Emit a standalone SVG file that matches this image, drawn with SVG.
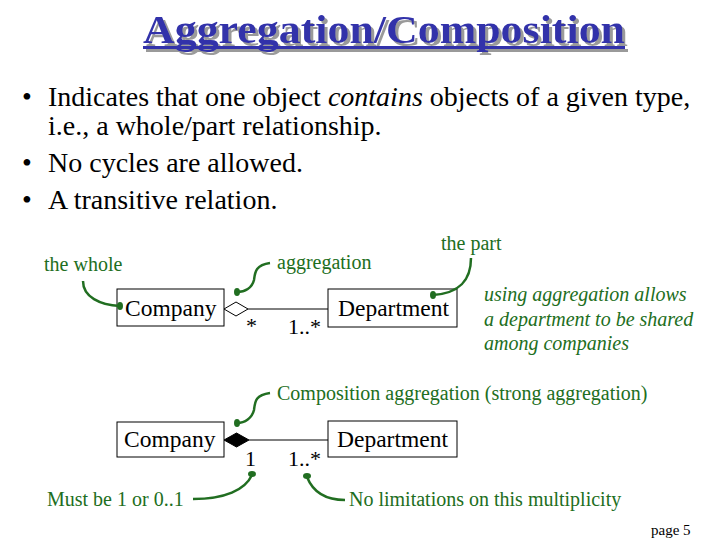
<svg xmlns="http://www.w3.org/2000/svg" width="720" height="540" viewBox="0 0 720 540">
<style>
.title{font-family:"Liberation Serif",serif;font-weight:bold;font-size:40px;fill:#3333aa}
.body{font-family:"Liberation Serif",serif;font-size:28px;fill:#000}
.node{font-family:"Liberation Serif",serif;font-size:23.5px;fill:#000}
.mult{font-family:"Liberation Serif",serif;font-size:22px;fill:#000}
.note{font-family:"Liberation Serif",serif;font-size:20px;fill:#216e21}
.inote{font-family:"Liberation Serif",serif;font-size:20px;font-style:italic;fill:#216e21}
.box{fill:#fff;stroke:#000;stroke-width:1}
.line{stroke:#000;stroke-width:1;fill:none}
.curve{stroke:#216e21;stroke-width:2.5;fill:none}
.dot{fill:#216e21}
.page{font-family:"Liberation Serif",serif;font-size:15px;fill:#000}
</style>
<defs>
<filter id="shadow" x="-5%" y="-20%" width="110%" height="150%">
<feDropShadow dx="3" dy="3" stdDeviation="0.6" flood-color="#9a9a9a" flood-opacity="1"/>
</filter>
</defs>
<rect width="720" height="540" fill="#fff"/>
<g id="title" filter="url(#shadow)">
<text class="title" x="143" y="43" textLength="482" lengthAdjust="spacingAndGlyphs">Aggregation/Composition</text>
<rect x="143" y="46" width="482" height="3" fill="#3333aa"/>
</g>
<g id="bullets">
<text class="body" x="22" y="106">•</text>
<text class="body" x="48" y="106">Indicates that one object <tspan font-style="italic">contains</tspan> objects of a given type,</text>
<text class="body" x="48" y="135">i.e., a whole/part relationship.</text>
<text class="body" x="22" y="172">•</text>
<text class="body" x="48" y="172">No cycles are allowed.</text>
<text class="body" x="22" y="209">•</text>
<text class="body" x="48" y="209">A transitive relation.</text>
</g>
<g id="connectors">
<line class="line" x1="248" y1="309" x2="328" y2="309"/>
<polygon points="224,309 236,302 248,309 236,316" fill="#fff" stroke="#000" stroke-width="1"/>
<line class="line" x1="249" y1="440" x2="328" y2="440"/>
<polygon points="224,440 236.5,433 249,440 236.5,447" fill="#000" stroke="#000" stroke-width="1"/>
</g>
<g id="company1">
<rect class="box" x="117" y="289" width="107" height="37"/>
<text class="node" x="125" y="316">Company</text>
</g>
<g id="department1">
<rect class="box" x="328" y="289" width="129" height="38"/>
<text class="node" x="338" y="316">Department</text>
</g>
<g id="company2">
<rect class="box" x="117" y="422" width="107" height="35"/>
<text class="node" x="124" y="447">Company</text>
</g>
<g id="department2">
<rect class="box" x="328" y="421" width="129" height="36"/>
<text class="node" x="337" y="447">Department</text>
</g>
<g id="multiplicities">
<text class="mult" x="246" y="333">*</text>
<text class="mult" x="288" y="334">1..*</text>
<text class="mult" x="245" y="466">1</text>
<text class="mult" x="288" y="466">1..*</text>
</g>
<g id="annotations">
<text class="note" x="44" y="271">the whole</text>
<path class="curve" d="M83,281 C83,297 100,305 120,306"/>
<ellipse class="dot" cx="120" cy="306" rx="3" ry="4"/>
<text class="note" x="277" y="269">aggregation</text>
<path class="curve" d="M270,263 C255,265 255,273 254,280 C252,288 245,292 237,292"/>
<ellipse class="dot" cx="237" cy="292" rx="3" ry="4"/>
<text class="note" x="441" y="250">the part</text>
<path class="curve" d="M471,258 C471,280 460,293 433,295"/>
<ellipse class="dot" cx="433" cy="295" rx="3" ry="4"/>
<text class="inote" x="484" y="301">using aggregation allows</text>
<text class="inote" x="484" y="326">a department to be shared</text>
<text class="inote" x="484" y="350">among companies</text>
<text class="note" x="277" y="400">Composition aggregation (strong aggregation)</text>
<path class="curve" d="M270,393 C255,395 255,402 254,410 C252,418 245,423 237,423"/>
<ellipse class="dot" cx="237" cy="423" rx="3" ry="4"/>
<text class="note" x="47" y="506">Must be 1 or 0..1</text>
<path class="curve" d="M193,499 C225,499 245,490 252,475"/>
<ellipse class="dot" cx="252" cy="474" rx="4" ry="3"/>
<text class="note" x="349" y="506">No limitations on this multiplicity</text>
<path class="curve" d="M307,477 C313,492 325,500 345,500"/>
<ellipse class="dot" cx="307" cy="476" rx="4" ry="3"/>
</g>
<text class="page" x="651" y="535">page 5</text>
</svg>
